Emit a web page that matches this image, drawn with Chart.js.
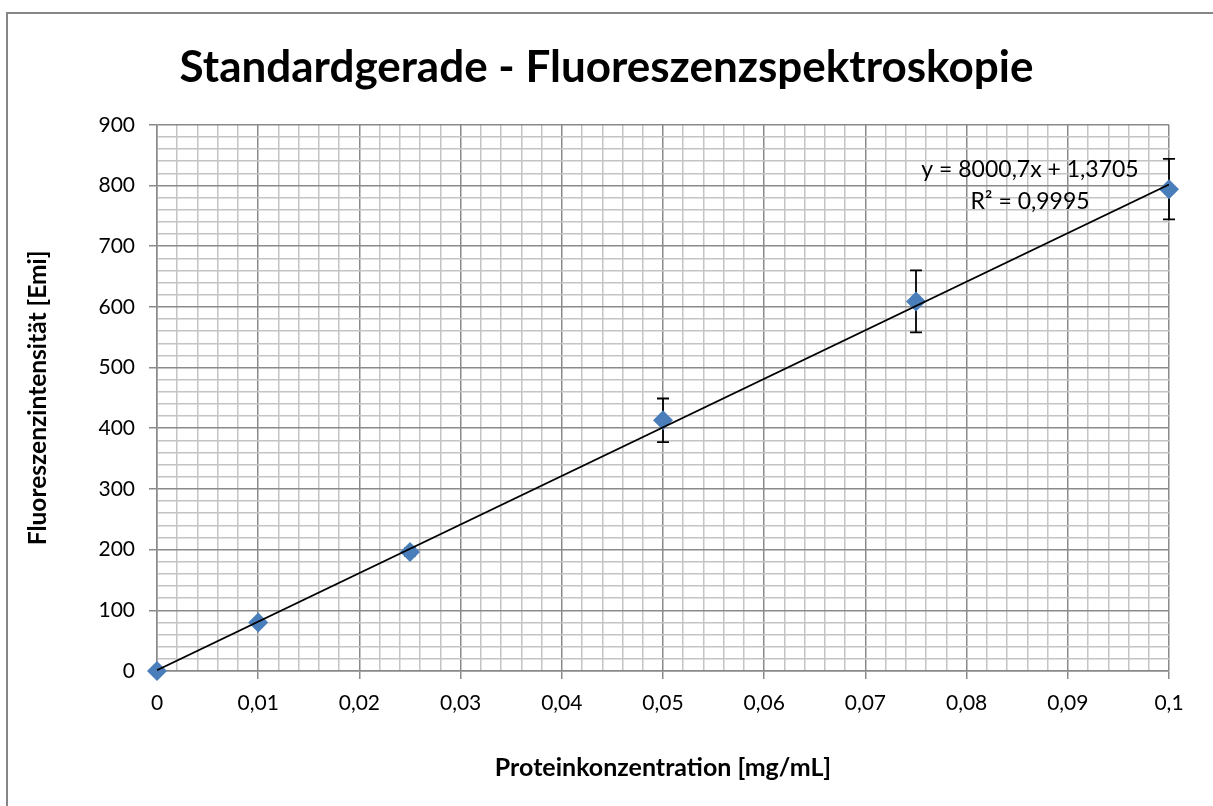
<!DOCTYPE html>
<html>
<head>
<meta charset="utf-8">
<title>Standardgerade - Fluoreszenzspektroskopie</title>
<script src="https://cdn.jsdelivr.net/npm/chart.js@4.4.1/dist/chart.umd.min.js"></script>
<style>
	html, body {
		margin: 0;
		padding: 0;
		background: #ffffff;
		overflow: hidden;
	}
	#wrap {
		position: relative;
		width: 1213px;
		height: 806px;
	}
	#frame {
		position: absolute;
		left: 6px;
		top: 12px;
		width: 1400px;
		height: 1000px;
		border: 2px solid #868686;
		pointer-events: none;
	}
</style>
</head>
<body>
<div id="wrap">
	<canvas id="chart" width="1213" height="806"></canvas>
	<div id="frame"></div>
</div>
<script>
const concentrations = [0, 0.01, 0.025, 0.05, 0.075, 0.1];
const intensities = [0, 80, 196, 413, 609, 794];
const errors = [0, 0, 6, 36, 51, 50];
const trendX = [0, 0.1];
const trendY = [1.3705, 801.4405];
const equationLines = ["y = 8000,7x + 1,3705", "R² = 0,9995"];

const fontFamily = "Lato, 'Open Sans', sans-serif";
const majorColor = "#8a8a8a";
const minorColor = "#c4c4c4";

function isMajorX(value) {
	return Math.round(value * 1000) % 10 === 0;
}

function isMajorY(value) {
	return Math.round(value) % 100 === 0;
}

function formatComma(value) {
	return String(Math.round(value * 1000) / 1000).replace(".", ",");
}

// error bars go under the markers, like in the original
const errorBarPlugin = {
	id: "errorBars",
	beforeDatasetsDraw(chart) {
		const ctx = chart.ctx;
		const xScale = chart.scales.x;
		const yScale = chart.scales.y;
		ctx.save();
		ctx.strokeStyle = "#000000";
		ctx.lineWidth = 1.8;
		concentrations.forEach((c, i) => {
			if (errors[i] <= 0) {
				return;
			}
			const x = xScale.getPixelForValue(c);
			const top = yScale.getPixelForValue(intensities[i] + errors[i]);
			const bottom = yScale.getPixelForValue(intensities[i] - errors[i]);
			ctx.beginPath();
			ctx.moveTo(x, top);
			ctx.lineTo(x, bottom);
			ctx.moveTo(x - 6, top);
			ctx.lineTo(x + 6, top);
			ctx.moveTo(x - 6, bottom);
			ctx.lineTo(x + 6, bottom);
			ctx.stroke();
		});
		ctx.restore();
	}
};

const equationPlugin = {
	id: "equation",
	afterDraw(chart) {
		const ctx = chart.ctx;
		ctx.save();
		ctx.font = "23px " + fontFamily;
		ctx.fillStyle = "#000000";
		ctx.textAlign = "center";
		ctx.textBaseline = "middle";
		ctx.fillText(equationLines[0], 1030, 170);
		ctx.fillText(equationLines[1], 1030, 202);
		ctx.restore();
	}
};

const context = document.getElementById("chart").getContext("2d");
const chart = new Chart(context, {
	type: "scatter",
	data: {
		datasets: [
			{
				label: "Trend",
				data: trendX.map((x, i) => ({ x: x, y: trendY[i] })),
				showLine: true,
				borderColor: "#000000",
				borderWidth: 1.8,
				pointRadius: 0,
				order: 1
			},
			{
				label: "Messwerte",
				data: concentrations.map((x, i) => ({ x: x, y: intensities[i] })),
				pointStyle: "rectRot",
				pointRadius: 10,
				pointBackgroundColor: "#4a7ebb",
				pointBorderColor: "#4a7ebb",
				pointBorderWidth: 0,
				clip: false,
				order: 2
			}
		]
	},
	options: {
		responsive: false,
		animation: false,
		layout: {
			padding: {
				left: 4,
				right: 4,
				top: 0,
				bottom: 0
			}
		},
		plugins: {
			legend: {
				display: false
			},
			tooltip: {
				enabled: false
			},
			title: {
				display: true,
				text: "Standardgerade - Fluoreszenzspektroskopie",
				color: "#000000",
				font: {
					family: fontFamily,
					size: 44,
					weight: "bold",
					lineHeight: 1.2
				},
				padding: {
					top: 41,
					bottom: 31
				}
			}
		},
		scales: {
			x: {
				type: "linear",
				min: 0,
				max: 0.1,
				afterFit: scale => { scale.height = 135; },
				ticks: {
					stepSize: 0.002,
					color: "#000000",
					padding: 12,
					maxRotation: 0,
					autoSkip: false,
					font: {
						family: fontFamily,
						size: 21
					},
					callback: value => isMajorX(value) ? formatComma(value) : ""
				},
				grid: {
					color: ctx => isMajorX(ctx.tick.value) ? majorColor : minorColor,
					lineWidth: 1.5,
					tickLength: 8,
					tickColor: ctx => isMajorX(ctx.tick.value) ? majorColor : "rgba(0,0,0,0)"
				},
				border: {
					color: majorColor,
					width: 1.5
				},
				title: {
					display: true,
					text: "Proteinkonzentration [mg/mL]",
					color: "#000000",
					font: {
						family: fontFamily,
						size: 25,
						weight: "bold",
						lineHeight: 1.2
					},
					padding: {
						top: 0,
						bottom: 23
					}
				}
			},
			y: {
				type: "linear",
				min: 0,
				max: 900,
				afterFit: scale => { scale.width = 153; },
				ticks: {
					stepSize: 20,
					color: "#000000",
					padding: 14,
					autoSkip: false,
					font: {
						family: fontFamily,
						size: 21
					},
					callback: value => isMajorY(value) ? String(value) : ""
				},
				grid: {
					color: ctx => isMajorY(ctx.tick.value) ? majorColor : minorColor,
					lineWidth: 1.5,
					tickLength: 8,
					tickColor: ctx => isMajorY(ctx.tick.value) ? majorColor : "rgba(0,0,0,0)"
				},
				border: {
					color: majorColor,
					width: 1.5
				},
				title: {
					display: true,
					text: "Fluoreszenzintensität [Emi]",
					color: "#000000",
					font: {
						family: fontFamily,
						size: 24.5,
						weight: "bold",
						lineHeight: 1.2
					},
					padding: {
						top: 19.3,
						bottom: 0
					}
				}
			},
			// empty right-hand axis, only there to keep the plot area where it is
			spacer: {
				type: "linear",
				position: "right",
				afterFit: scale => { scale.width = 40; },
				ticks: {
					display: false
				},
				grid: {
					display: false
				},
				border: {
					display: false
				}
			}
		}
	},
	plugins: [errorBarPlugin, equationPlugin]
});
</script>
</body>
</html>
